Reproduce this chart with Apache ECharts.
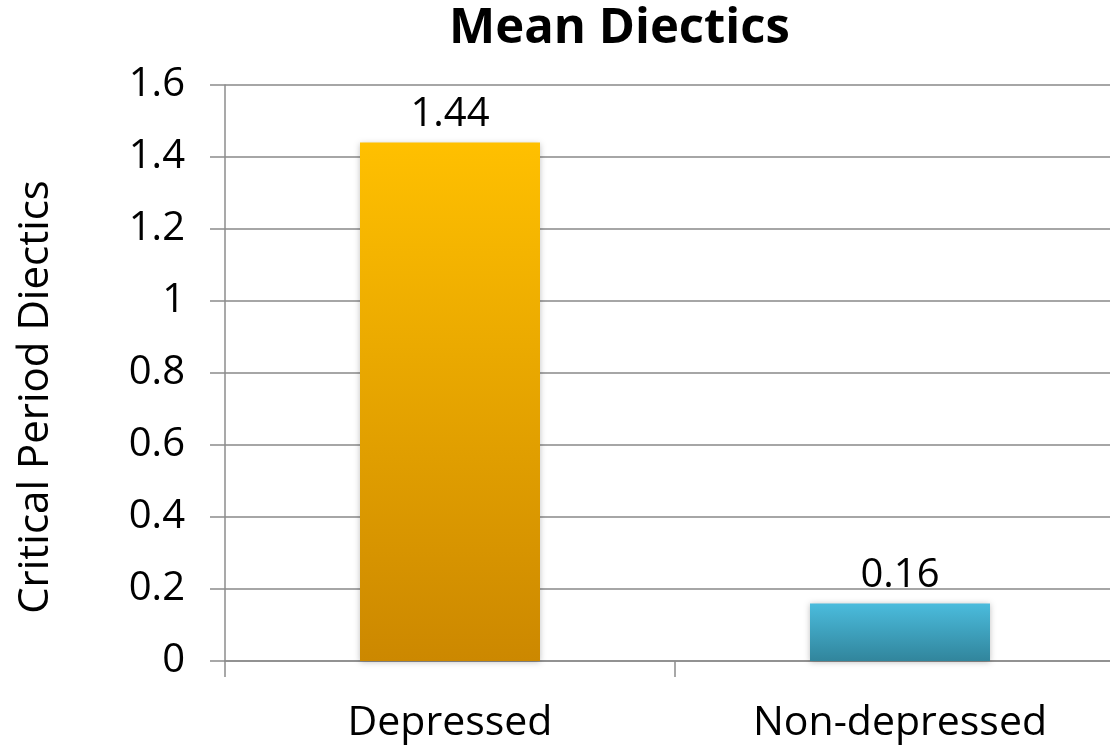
<!DOCTYPE html>
<html>
<head>
<meta charset="utf-8">
<style>
  html, body { margin: 0; padding: 0; background: #fff; overflow: hidden; }
  /* the plot's right edge runs just past the visible window */
  #chart { width: 1125px; height: 747px; }
</style>
<script src="https://cdn.jsdelivr.net/npm/echarts@6/dist/echarts.min.js"></script>
</head>
<body>
<div id="chart"></div>
<script>
// Mean critical-period diectics per group
const categories = ['Depressed', 'Non-depressed'];
const meanDiectics = [1.44, 0.16];
const barTop = ['#FFC000', '#4BBCDD'];
const barBottom = ['#CC8800', '#31859C'];

const chart = echarts.init(document.getElementById('chart'));
const font = '"Open Sans", "Noto Sans", sans-serif';

chart.setOption({
  animation: false,
  title: {
    text: 'Mean Diectics',
    left: 444,
    top: 0,
    textStyle: { fontFamily: font, fontSize: 49, fontWeight: 'bold', color: '#000' }
  },
  grid: { left: 225, top: 85, right: 0, height: 576, containLabel: false },
  xAxis: {
    type: 'category',
    data: categories,
    axisLine: { lineStyle: { color: '#8c8c8c', width: 1.5 } },
    axisTick: { show: true, length: 16, lineStyle: { color: '#8c8c8c', width: 1.5 } },
    axisLabel: { fontFamily: font, fontSize: 41, color: '#000', margin: 42 }
  },
  yAxis: {
    type: 'value',
    min: 0,
    max: 1.6,
    interval: 0.2,
    name: 'Critical Period Diectics',
    nameLocation: 'middle',
    nameGap: 168,
    nameRotate: 90,
    nameTextStyle: { fontFamily: font, fontSize: 42, color: '#000', padding: [0, 48, 0, 0] },
    axisLine: { show: true, lineStyle: { color: '#8c8c8c', width: 1.5 } },
    axisTick: { show: true, length: 15, lineStyle: { color: '#8c8c8c', width: 1.5 } },
    axisLabel: {
      fontFamily: font, fontSize: 40, color: '#000', margin: 40,
      formatter: v => String(Math.round(v * 10) / 10)
    },
    splitLine: { show: true, lineStyle: { color: '#a6a6a6', width: 2 } }
  },
  series: [{
    type: 'bar',
    barWidth: '40%',
    data: meanDiectics.map((v, i) => ({
      value: v,
      itemStyle: {
        color: new echarts.graphic.LinearGradient(0, 0, 0, 1, [
          { offset: 0, color: barTop[i] },
          { offset: 1, color: barBottom[i] }
        ]),
        shadowColor: 'rgba(0,0,0,0.25)',
        shadowBlur: 6,
        shadowOffsetY: 1
      }
    })),
    label: {
      show: true,
      position: 'top',
      distance: 8,
      fontFamily: font,
      fontSize: 40,
      color: '#000',
      formatter: p => p.value.toFixed(2)
    }
  }]
});
</script>
</body>
</html>
